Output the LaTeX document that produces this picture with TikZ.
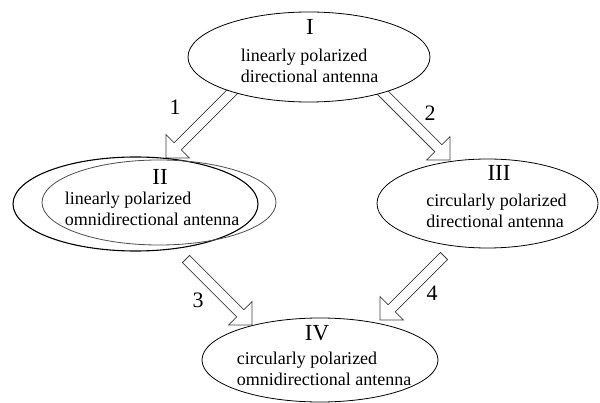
\documentclass[tikz,border=0pt]{standalone}
\usepackage{fontspec}
\setmainfont{Liberation Serif}
\usetikzlibrary{shapes.geometric,calc}
\tikzset{
  oval/.style={ellipse, draw=black, line width=0.8pt, inner sep=0pt},
  body/.style={font=\fontsize{18}{21}\selectfont, align=left, inner sep=0pt},
  numeral/.style={font=\fontsize{23}{23}\selectfont, inner sep=0pt},
  steplabel/.style={font=\fontsize{22}{22}\selectfont, inner sep=0pt},
  blockarrow/.style={draw=black!75, line width=0.8pt, fill=white, line join=miter},
}
\newcommand\hollowarrow[3]{%
  \draw[blockarrow] ($(#1)!5pt!90:(#3)$) -- ($(#2)!5pt!90:(#3)$) -- ($(#2)!16.5pt!90:(#3)$) -- (#3)
    -- ($(#2)!16.5pt!-90:(#3)$) -- ($(#2)!5pt!-90:(#3)$) -- ($(#1)!5pt!-90:(#3)$) -- cycle;}
\begin{document}
\begin{tikzpicture}[x=1pt,y=-1pt]
\useasboundingbox (0,0) rectangle (600,403);
% arrow end points
\coordinate (s1) at (240,84);  \coordinate (t1) at (166,158);
\coordinate (s2) at (375,85);  \coordinate (t2) at (450,160);
\coordinate (s3) at (186,259); \coordinate (t3) at (252,325);
\coordinate (s4) at (444,256); \coordinate (t4) at (380,320);
\foreach \k in {1,2,3,4}{\coordinate (h\k) at ($(t\k)!16.5pt!(s\k)$);}
\hollowarrow{s1}{h1}{t1}
\hollowarrow{s2}{h2}{t2}
\hollowarrow{s3}{h3}{t3}
\hollowarrow{s4}{h4}{t4}
% ellipses
\node[oval, fill=white, minimum width=242pt, minimum height=90pt] (I) at (309,57) {};
\node[oval, line width=1.1pt, minimum width=245pt, minimum height=94pt] (IIout) at (135.5,204) {};
\node[oval, draw=black!70, minimum width=234pt, minimum height=85pt] (II) at (159,202.5) {};
\node[oval, minimum width=221pt, minimum height=89pt] (III) at (487.5,203.5) {};
\node[oval, minimum width=236pt, minimum height=84pt] (IV) at (320,360) {};
% texts
\node[numeral] (Inum) at (310,27) {I};
\node[body] (Itext) at (309.5,66) {linearly polarized\\directional antenna};
\node[numeral] (IInum) at (160,177) {II};
\node[body] (IItext) at (152,209) {linearly polarized\\omnidirectional antenna};
\node[numeral] (IIInum) at (499,173) {III};
\node[body] (IIItext) at (496.5,211) {circularly polarized\\directional antenna};
\node[numeral] (IVnum) at (317,333) {IV};
\node[body] (IVtext) at (324,368.5) {circularly polarized\\omnidirectional antenna};
% step labels
\node[steplabel] (n1) at (175,107) {1};
\node[steplabel] (n2) at (430,113) {2};
\node[steplabel] (n3) at (198,300) {3};
\node[steplabel] (n4) at (432,293) {4};
\end{tikzpicture}
\end{document}
